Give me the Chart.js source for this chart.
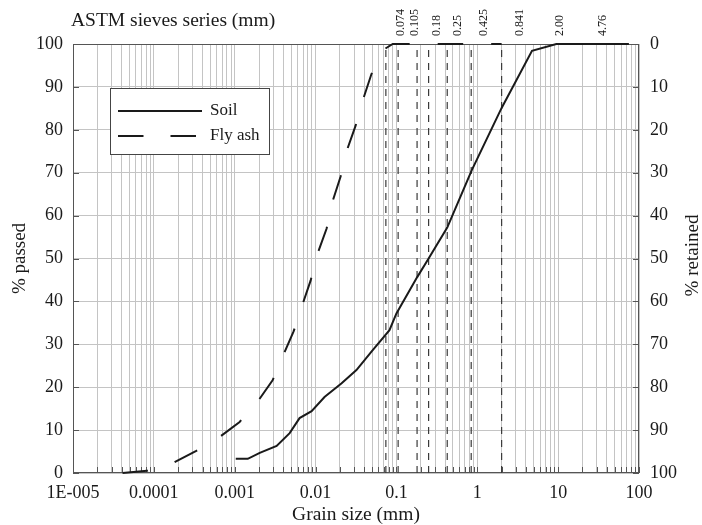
<!DOCTYPE html>
<html>
<head>
<meta charset="utf-8">
<script src="https://cdn.jsdelivr.net/npm/chart.js@4.4.0/dist/chart.umd.min.js"></script>
<style>
  html, body { margin: 0; padding: 0; background: #fff; }
  #wrap { width: 702px; height: 525px; }
</style>
</head>
<body>
<div id="wrap"><canvas id="gradationChart"></canvas></div>
<script>
// grain size distribution (mm -> % passed)
const soilSize = [0.00103, 0.00145, 0.00204, 0.0033, 0.00478, 0.00634, 0.00893, 0.0129, 0.021, 0.032, 0.0506, 0.082, 0.1, 0.18, 0.25, 0.425, 0.85, 2.0, 4.75, 9.5, 75];
const soilPassed = [3.3, 3.3, 4.7, 6.3, 9.3, 12.8, 14.4, 17.7, 20.9, 24.0, 28.6, 33.3, 37.2, 45.6, 50.0, 57.2, 70.5, 85.1, 98.4, 100, 100];

const flyAshSize = [4.1e-5, 8.2e-5, 1.72e-4, 3.3e-4, 6.5e-4, 1.15e-3, 1.98e-3, 2.94e-3, 4.03e-3, 5.35e-3, 6.9e-3, 8.7e-3, 0.0106, 0.0137, 0.0162, 0.0204, 0.0248, 0.0312, 0.0392, 0.0491, 0.071, 0.09, 2.0];
const flyAshPassed = [0, 0.5, 2.3, 5.1, 8.4, 11.9, 17.0, 21.6, 27.7, 33.0, 39.3, 44.9, 51.2, 57.0, 63.3, 69.1, 75.6, 80.9, 87.4, 93.0, 98.8, 100, 100];

// ASTM sieve openings (mm)
const sieveSizes = [0.074, 0.105, 0.18, 0.25, 0.425, 0.841, 2.00];
const sieveLabels = ['0.074', '0.105', '0.18', '0.25', '0.425', '0.841', '2.00', '4.76'];

// axis ticks
const xTickValues = [1e-5, 1e-4, 1e-3, 0.01, 0.1, 1, 10, 100];
const xTickLabels = ['1E-005', '0.0001', '0.001', '0.01', '0.1', '1', '10', '100'];

const serif = "'Liberation Serif', 'Times New Roman', serif";
const gridColor = '#c4c4c4';
const axisColor = '#555';
const textColor = '#1a1a1a';

// where the sieve labels sit above the plot (pixels)
const sieveLabelX = [401, 415, 437, 458, 484, 520, 560, 603];

function toPoints(xs, ys) {
    return xs.map((x, i) => ({ x: x, y: ys[i] }));
}

const sieveDatasets = sieveSizes.map(function(s) {
    return {
        label: 'sieve ' + s,
        data: [{ x: s, y: 0 }, { x: s, y: 100 }],
        borderColor: '#3a3a3a',
        borderWidth: 1.2,
        borderDash: [7, 6],
        pointRadius: 0,
        fill: false
    };
});

// frame, inner ticks, legend box and extra texts
const decorPlugin = {
    id: 'decor',
    beforeDatasetsDraw(chart) {
        const ctx = chart.ctx;
        const a = chart.chartArea;
        ctx.save();
        ctx.strokeStyle = axisColor;
        ctx.lineWidth = 1;
        // short inner ticks on the bottom edge
        chart.scales.x.ticks.forEach(function(t) {
            const px = Math.round(chart.scales.x.getPixelForValue(t.value)) + 0.5;
            ctx.beginPath();
            ctx.moveTo(px, a.bottom);
            ctx.lineTo(px, a.bottom - 6);
            ctx.stroke();
        });
        // inner ticks left & right
        chart.scales.y.ticks.forEach(function(t) {
            const py = Math.round(chart.scales.y.getPixelForValue(t.value)) + 0.5;
            ctx.beginPath();
            ctx.moveTo(a.left, py);
            ctx.lineTo(a.left + 6, py);
            ctx.moveTo(a.right, py);
            ctx.lineTo(a.right - 6, py);
            ctx.stroke();
        });
        ctx.strokeRect(a.left + 0.5, a.top + 0.5, a.right - a.left - 1, a.bottom - a.top - 1);
        ctx.restore();
    },
    afterDraw(chart) {
        const ctx = chart.ctx;
        const a = chart.chartArea;
        ctx.save();
        ctx.fillStyle = textColor;

        // title above the plot
        ctx.font = '19.5px ' + serif;
        ctx.textAlign = 'left';
        ctx.textBaseline = 'alphabetic';
        ctx.fillText('ASTM sieves series (mm)', 71, 26);

        // sieve labels, rotated
        ctx.font = '12px ' + serif;
        sieveLabels.forEach(function(txt, i) {
            ctx.save();
            ctx.translate(sieveLabelX[i], 36);
            ctx.rotate(-Math.PI / 2);
            ctx.textAlign = 'left';
            ctx.textBaseline = 'middle';
            ctx.fillText(txt, 0, 0);
            ctx.restore();
        });

        // right axis title
        ctx.save();
        ctx.font = '19px ' + serif;
        ctx.translate(693, (a.top + a.bottom) / 2 - 3);
        ctx.rotate(-Math.PI / 2);
        ctx.textAlign = 'center';
        ctx.textBaseline = 'middle';
        ctx.fillText('% retained', 0, 0);
        ctx.restore();

        // legend
        ctx.fillStyle = '#fff';
        ctx.fillRect(110, 88, 159, 66);
        ctx.strokeStyle = '#444';
        ctx.lineWidth = 1;
        ctx.strokeRect(110.5, 88.5, 159, 66);

        ctx.strokeStyle = textColor;
        ctx.lineWidth = 2;
        ctx.beginPath();
        ctx.moveTo(118, 111);
        ctx.lineTo(202, 111);
        ctx.stroke();
        ctx.setLineDash([25.5, 27]);
        ctx.beginPath();
        ctx.moveTo(118, 136);
        ctx.lineTo(198, 136);
        ctx.stroke();
        ctx.setLineDash([]);

        ctx.fillStyle = textColor;
        ctx.font = '17px ' + serif;
        ctx.textAlign = 'left';
        ctx.textBaseline = 'middle';
        ctx.fillText('Soil', 210, 111);
        ctx.fillText('Fly ash', 210, 136);
        ctx.restore();
    }
};

const ctx = document.getElementById('gradationChart');
const gradationChart = new Chart(ctx, {
    type: 'line',
    data: {
        datasets: [
            {
                label: 'Soil',
                data: toPoints(soilSize, soilPassed),
                borderColor: textColor,
                borderWidth: 2,
                pointRadius: 0,
                tension: 0,
                clip: 3,
                fill: false
            },
            {
                label: 'Fly ash',
                data: toPoints(flyAshSize, flyAshPassed),
                borderColor: textColor,
                borderWidth: 2,
                borderDash: [25.5, 28],
                pointRadius: 0,
                tension: 0,
                clip: 3,
                fill: false
            }
        ].concat(sieveDatasets)
    },
    options: {
        responsive: true,
        maintainAspectRatio: false,
        animation: false,
        layout: { padding: { top: 44, left: 0, right: 0, bottom: 0 } },
        plugins: {
            legend: { display: false },
            tooltip: { enabled: false }
        },
        scales: {
            x: {
                type: 'logarithmic',
                min: 1e-5,
                max: 100,
                afterBuildTicks: function(scale) {
                    const ticks = [];
                    for (let k = -5; k <= 2; k++) {
                        for (let m = 1; m <= 9; m++) {
                            if (k === 2 && m > 1) break;
                            ticks.push({ value: m * Math.pow(10, k) });
                        }
                    }
                    scale.ticks = ticks;
                },
                afterFit: function(scale) { scale.height = 52; },
                grid: { color: gridColor, lineWidth: 1, drawTicks: false },
                border: { display: false },
                ticks: {
                    autoSkip: false,
                    maxRotation: 0,
                    padding: 9,
                    color: textColor,
                    font: { family: serif, size: 18 },
                    callback: function(value) {
                        const i = xTickValues.findIndex(v => Math.abs(v - value) / v < 1e-6);
                        return i >= 0 ? xTickLabels[i] : '';
                    }
                },
                title: {
                    display: true,
                    text: 'Grain size (mm)',
                    color: textColor,
                    font: { family: serif, size: 19.5, lineHeight: 1 },
                    padding: { top: 0, bottom: 0 }
                }
            },
            y: {
                min: 0,
                max: 100,
                afterFit: function(scale) { scale.width = 73; },
                grid: { color: gridColor, lineWidth: 1, drawTicks: false },
                border: { display: false },
                ticks: {
                    stepSize: 10,
                    padding: 10,
                    color: textColor,
                    font: { family: serif, size: 18 }
                },
                title: {
                    display: true,
                    text: '% passed',
                    color: textColor,
                    font: { family: serif, size: 19, lineHeight: 1.2 },
                    padding: { top: 9, bottom: 0 }
                }
            },
            y2: {
                position: 'right',
                min: 0,
                max: 100,
                reverse: true,
                afterFit: function(scale) { scale.width = 63; },
                grid: { drawOnChartArea: false, drawTicks: false },
                border: { display: false },
                ticks: {
                    stepSize: 10,
                    padding: 11,
                    color: textColor,
                    font: { family: serif, size: 18 }
                }
            }
        }
    },
    plugins: [decorPlugin]
});
</script>
</body>
</html>
